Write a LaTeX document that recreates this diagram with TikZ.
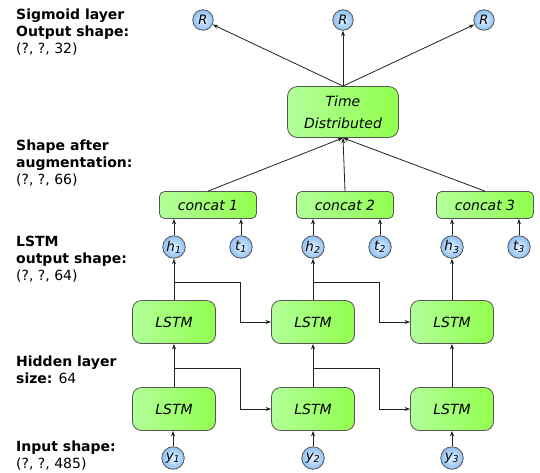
\documentclass[tikz,border=0pt]{standalone}
\usepackage{fontspec}
\setmainfont{DejaVu Sans}
\usetikzlibrary{arrows.meta,calc}
\definecolor{edge}{HTML}{555555}
\definecolor{wire}{HTML}{222222}
\definecolor{gA}{HTML}{B2FF99}
\definecolor{gB}{HTML}{7DF06A}
\definecolor{gC}{HTML}{92FF4E}
\definecolor{bIn}{HTML}{E4F1FF}
\definecolor{bOut}{HTML}{8EC0F2}
\tikzset{
  greenbox/.style={draw=edge, line width=0.8pt, left color=gA, middle color=gB, right color=gC,
    font=\fontsize{14}{22}\selectfont\itshape, align=center, inner sep=0pt},
  lstmbox/.style={greenbox, rounded corners=9pt, minimum width=83pt, minimum height=43pt},
  catbox/.style={greenbox, rounded corners=5pt, minimum width=97pt, minimum height=27pt},
  tdbox/.style={greenbox, rounded corners=10pt, minimum width=111pt, minimum height=51pt},
  unit/.style={circle, draw=edge, line width=0.8pt, inner color=bIn, outer color=bOut,
    minimum size=22.5pt, inner sep=0pt, font=\fontsize{13.5}{13.5}\selectfont\itshape},
  outunit/.style={unit, minimum size=20.5pt, font=\fontsize{13}{13}\selectfont\itshape},
  link/.style={draw=wire, line width=0.8pt, -{Stealth[length=5.5pt,width=4pt]}},
  lbl/.style={anchor=base west, inner sep=0pt, font=\fontsize{14}{17}\selectfont},
  lblb/.style={lbl, font=\fontsize{14}{17}\selectfont\bfseries},
}
\begin{document}
\begin{tikzpicture}[x=1pt,y=-1pt]
\useasboundingbox (0,0) rectangle (540,472);

% side captions
\node[lblb] (c1a) at (16,19) {Sigmoid layer};
\node[lblb] (c1b) at (16,36) {Output shape:};
\node[lbl]  (c1c) at (16,53) {(?, ?, 32)};
\node[lblb] (c2a) at (16,150) {Shape after};
\node[lblb] (c2b) at (16,167) {augmentation:};
\node[lbl]  (c2c) at (16,184) {(?, ?, 66)};
\node[lblb] (c3a) at (16,246) {LSTM};
\node[lblb] (c3b) at (16,263) {output shape:};
\node[lbl]  (c3c) at (16,280) {(?, ?, 64)};
\node[lblb] (c4a) at (16,366) {Hidden layer};
\node[lbl]  (c4b) at (16,383) {\textbf{size:} 64};
\node[lblb] (c5a) at (16,451) {Input shape:};
\node[lbl]  (c5b) at (16,468) {(?, ?, 485)};

% outputs and time-distributed layer
\node[outunit] (r1) at (203,20) {R};
\node[outunit] (r2) at (343,20) {R};
\node[outunit] (r3) at (484,20) {R};
\node[tdbox] (td) at (343,112) {Time\\Distributed};

% concatenation boxes
\node[catbox] (k1) at (208,205) {concat 1};
\node[catbox] (k2) at (345,205) {concat 2};
\node[catbox] (k3) at (485,205) {concat 3};

% hidden states and time features
\node[unit] (h1) at (174,247) {h\textsubscript{1}};
\node[unit] (t1) at (241,247) {t\textsubscript{1}};
\node[unit] (h2) at (313,247) {h\textsubscript{2}};
\node[unit] (t2) at (380,247) {t\textsubscript{2}};
\node[unit] (h3) at (452,247) {h\textsubscript{3}};
\node[unit] (t3) at (519,247) {t\textsubscript{3}};

% LSTM stacks
\node[lstmbox] (u1) at (174,322) {LSTM};
\node[lstmbox] (u2) at (313,322) {LSTM};
\node[lstmbox] (u3) at (452,322) {LSTM};
\node[lstmbox] (l1) at (174,409) {LSTM};
\node[lstmbox] (l2) at (313,409) {LSTM};
\node[lstmbox] (l3) at (452,409) {LSTM};

% inputs
\node[unit] (y1) at (173,458) {y\textsubscript{1}};
\node[unit] (y2) at (313,458) {y\textsubscript{2}};
\node[unit] (y3) at (452,458) {y\textsubscript{3}};

% vertical flow
\foreach \i in {1,2,3}{
  \draw[link] (y\i) -- (y\i |- l\i.south);
  \draw[link] (l\i) -- (u\i);
  \draw[link] (u\i) -- (h\i);
  \draw[link] (h\i) -- (h\i |- k\i.south);
  \draw[link] (t\i) -- (t\i |- k\i.south);
  \draw[link] (k\i.north) -- (td.south);
  \draw[link] (td.north) -- (r\i);
}

% recurrent connections between time steps
\coordinate (bl1) at (174,368);
\coordinate (bl2) at (313,368);
\coordinate (bu1) at (174,282);
\coordinate (bu2) at (313,282);
\coordinate (jl1) at (240,409);
\coordinate (jl2) at (379,409);
\coordinate (ju1) at (240,322);
\coordinate (ju2) at (379,322);
\draw[link] (bl1) -| (jl1) -- (l2.west);
\draw[link] (bl2) -| (jl2) -- (l3.west);
\draw[link] (bu1) -| (ju1) -- (u2.west);
\draw[link] (bu2) -| (ju2) -- (u3.west);
\end{tikzpicture}
\end{document}
